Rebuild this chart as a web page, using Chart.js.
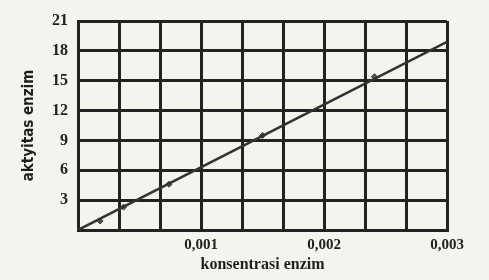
<!DOCTYPE html>
<html>
<head>
<meta charset="utf-8">
<script src="https://cdn.jsdelivr.net/npm/chart.js@4/dist/chart.umd.min.js"></script>
<style>
    html, body { margin: 0; padding: 0; background: #f4f3ee; }
    #wrap { width: 489px; height: 280px; }
</style>
</head>
<body>
<div id="wrap"><canvas id="enzymeChart" width="489" height="280"></canvas></div>
<script>
// values
const lineX = [0, 0.003];
const lineY = [0, 18.9];
const pointX = [0.00018, 0.00037, 0.00074, 0.00150, 0.00241];
const pointY = [0.9, 2.3, 4.6, 9.5, 15.4];
const xLabels = ['0,001', '0,002', '0,003'];
const yTicks = [3, 6, 9, 12, 15, 18, 21];

const ink = '#222';

function toPoints(xs, ys) {
    return xs.map((x, i) => ({ x: x, y: ys[i] }));
}

const ctx = document.getElementById('enzymeChart').getContext('2d');

new Chart(ctx, {
    type: 'scatter',
    data: {
        datasets: [{
            data: toPoints(lineX, lineY),
            showLine: true,
            borderColor: '#333',
            borderWidth: 2.5,
            pointRadius: 0
        }, {
            data: toPoints(pointX, pointY),
            pointStyle: 'rectRot',
            pointRadius: 3,
            backgroundColor: '#555',
            borderColor: '#333',
            borderWidth: 1
        }]
    },
    options: {
        responsive: false,
        animation: false,
        layout: { padding: { top: 21, right: 42, left: 0, bottom: 0 } },
        plugins: {
            legend: { display: false },
            tooltip: { enabled: false }
        },
        scales: {
            x: {
                type: 'linear',
                min: 0,
                max: 0.003,
                afterBuildTicks: (scale) => {
                    scale.ticks = [];
                    for (let i = 0; i <= 9; i++) scale.ticks.push({ value: i * 0.001 / 3 });
                },
                afterFit: (scale) => { scale.height = 50; },
                grid: { color: ink, lineWidth: 3, drawTicks: false },
                border: { color: ink, width: 3 },
                ticks: {
                    padding: 6,
                    color: '#222',
                    font: { family: 'Liberation Serif', size: 15, weight: 'bold' },
                    callback: (v) => {
                        const k = Math.round(v / 0.001 * 3);
                        if (k > 0 && k % 3 === 0) return xLabels[k / 3 - 1];
                        return '';
                    }
                },
                title: {
                    display: true,
                    text: 'konsentrasi enzim',
                    color: '#1e1e1e',
                    font: { family: 'Liberation Serif', size: 16, weight: 'bold' },
                    padding: { top: 0, bottom: 6 }
                }
            },
            y: {
                min: 0,
                max: 21,
                afterBuildTicks: (scale) => {
                    scale.ticks = [{ value: 0 }].concat(yTicks.map(v => ({ value: v })));
                },
                afterFit: (scale) => { scale.width = 78; },
                grid: { color: ink, lineWidth: 3, drawTicks: false },
                border: { color: ink, width: 3 },
                ticks: {
                    padding: 10,
                    color: '#222',
                    font: { family: 'Liberation Serif', size: 16, weight: 'bold' },
                    callback: (v) => (v === 0 ? '' : v)
                },
                title: {
                    display: true,
                    text: 'aktyitas enzim',
                    color: '#1e1e1e',
                    font: { family: 'DejaVu Sans Condensed', size: 15, weight: 'bold' },
                    padding: { top: 20, bottom: 0 }
                }
            }
        }
    }
});
</script>
</body>
</html>
